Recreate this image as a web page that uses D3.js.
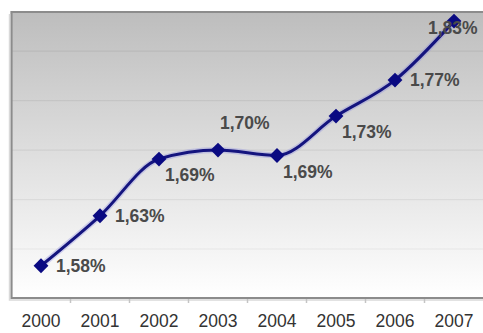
<!DOCTYPE html>
<html>
<head>
<meta charset="utf-8">
<script src="https://cdn.jsdelivr.net/npm/d3@7"></script>
<style>
  html, body { margin: 0; padding: 0; background: #ffffff; }
  svg { display: block; }
</style>
</head>
<body>
<svg id="chart" width="483" height="333"></svg>
<script>
// ---- data ----
const years = ["2000", "2001", "2002", "2003", "2004", "2005", "2006", "2007"];
const values = [1.5826, 1.6331, 1.6904, 1.6995, 1.6940, 1.7338, 1.7702, 1.8298];
const labelPlacement = ["right", "right", "belowRight", "aboveRight", "belowRight", "belowRight", "right", "overLeft"];
const gridTicks = [1.60, 1.65, 1.70, 1.75, 1.80];
const yDomain = [1.55, 1.839];

// ---- layout ----
const svg = d3.select("#chart");
const plot = { left: 11.5, top: 12, right: 483.5, bottom: 298 };

const x = d3.scaleBand().domain(years).range([plot.left, plot.right]).padding(0);
const y = d3.scaleLinear().domain(yDomain).range([plot.bottom, plot.top]);
const cx = d => x(d) + x.bandwidth() / 2;

const defs = svg.append("defs");
const grad = defs.append("linearGradient").attr("id", "bg").attr("x1", 0).attr("y1", 0).attr("x2", 0).attr("y2", 1);
grad.append("stop").attr("offset", "0%").attr("stop-color", "#bdbdbd");
grad.append("stop").attr("offset", "55%").attr("stop-color", "#e2e2e2");
grad.append("stop").attr("offset", "100%").attr("stop-color", "#ffffff");

// plot area background
svg.append("rect")
  .attr("x", plot.left).attr("y", plot.top)
  .attr("width", plot.right - plot.left + 4).attr("height", plot.bottom - plot.top)
  .attr("fill", "url(#bg)");

// gridlines
const gridG = svg.append("g")
  .attr("transform", `translate(${plot.left},0)`)
  .call(d3.axisLeft(y).tickValues(gridTicks).tickSize(-(plot.right - plot.left + 4)).tickFormat(""));
gridG.select(".domain").remove();
gridG.selectAll(".tick line").attr("stroke", "#000").attr("stroke-opacity", 0.06).attr("stroke-width", 1.2);

// border (left, top, bottom)
svg.append("path")
  .attr("d", `M${plot.right + 5},${plot.top} H${plot.left} V${plot.bottom} H${plot.right + 5}`)
  .attr("fill", "none").attr("stroke", "#8c8c8c").attr("stroke-width", 2.2);
svg.append("path")
  .attr("d", `M${plot.left - 2},${plot.top + 2} V${plot.bottom + 2} H${plot.right + 5}`)
  .attr("fill", "none").attr("stroke", "#d9d9d9").attr("stroke-width", 1.5);

// x axis labels
const xAxis = svg.append("g")
  .attr("transform", `translate(0,${plot.bottom})`)
  .call(d3.axisBottom(x).tickSize(0).tickPadding(17));
xAxis.select(".domain").remove();
xAxis.selectAll("text")
  .attr("font-family", "Liberation Sans, Arial, sans-serif")
  .attr("font-size", 17.5)
  .attr("fill", "#333333");

// boundary tick marks
svg.append("g").selectAll("line")
  .data(years.slice(1))
  .join("line")
  .attr("x1", d => x(d)).attr("x2", d => x(d))
  .attr("y1", plot.bottom + 1).attr("y2", plot.bottom + 5)
  .attr("stroke", "#c4c4c4").attr("stroke-width", 1.5);

// line
const line = d3.line().x((d, i) => cx(years[i])).y(d => y(d)).curve(d3.curveMonotoneX);
svg.append("path")
  .datum(values)
  .attr("d", line)
  .attr("fill", "none")
  .attr("stroke", "#8a8ae0").attr("stroke-opacity", 0.35)
  .attr("stroke-width", 6);
svg.append("path")
  .datum(values)
  .attr("d", line)
  .attr("fill", "none")
  .attr("stroke", "#14147e")
  .attr("stroke-width", 3);

// markers (rotated squares)
svg.append("g").selectAll("path")
  .data(values)
  .join("path")
  .attr("transform", (d, i) => `translate(${cx(years[i])},${y(d)}) rotate(45)`)
  .attr("d", d3.symbol(d3.symbolSquare, 110))
  .attr("fill", "#0a0a82");

// value labels
const fmt = v => d3.format(".2f")(v).replace(".", ",") + "%";
const offsets = {
  right: [15, 0, "start"],
  belowRight: [6, 16, "start"],
  aboveRight: [2, -27, "start"],
  overLeft: [-26, 7, "start"]
};
svg.append("g").selectAll("text")
  .data(values)
  .join("text")
  .attr("x", (d, i) => cx(years[i]) + offsets[labelPlacement[i]][0])
  .attr("y", (d, i) => y(d) + offsets[labelPlacement[i]][1])
  .attr("dy", "0.36em")
  .attr("text-anchor", (d, i) => offsets[labelPlacement[i]][2])
  .attr("font-family", "Liberation Sans, Arial, sans-serif")
  .attr("font-weight", "bold")
  .attr("font-size", 17.5)
  .attr("fill", "#4a4a4a")
  .text(d => fmt(d));
</script>
</body>
</html>
